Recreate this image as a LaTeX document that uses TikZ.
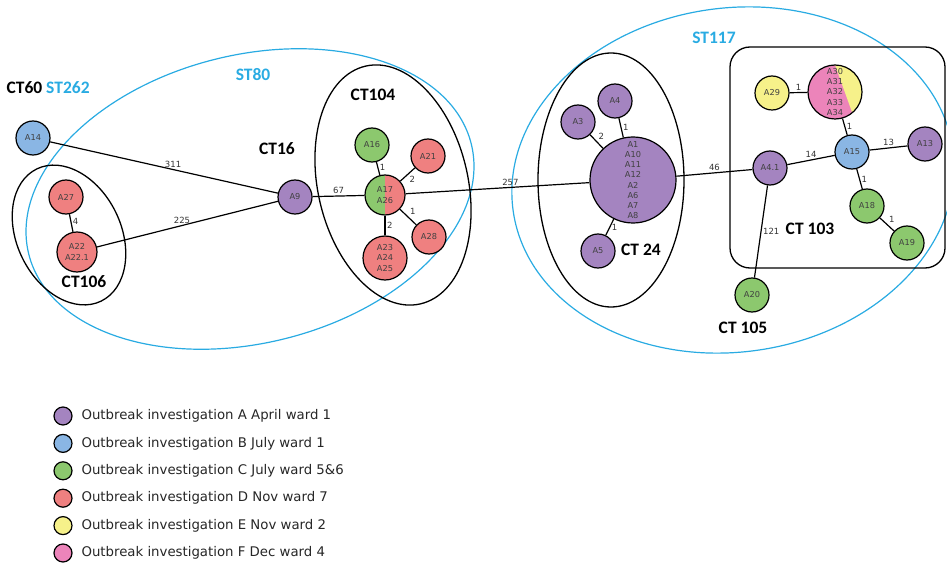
\documentclass[tikz,border=0pt]{standalone}
\usepackage{fontspec}
\setmainfont{DejaVu Sans}
\newfontfamily\ctfont{Carlito}
\usetikzlibrary{positioning}

\definecolor{apurple}{RGB}{164,132,192}
\definecolor{bblue}{RGB}{138,182,228}
\definecolor{cgreen}{RGB}{140,200,110}
\definecolor{dred}{RGB}{239,128,128}
\definecolor{eyellow}{RGB}{246,241,138}
\definecolor{fpink}{RGB}{236,132,186}
\definecolor{stblue}{RGB}{41,171,226}

\begin{document}
\begin{tikzpicture}[x=1pt, y=-1pt,
    iso/.style={circle, draw, line width=1.2pt, minimum size=34pt, inner sep=0pt,
        align=center, text=black!75, font=\fontsize{8.2}{10.2}\selectfont},
    lnk/.style={line width=1.2pt},
    num/.style={inner sep=1.5pt, text=black!80, font=\fontsize{8.5}{10}\selectfont},
    ctline/.style={line width=1.3pt},
    stline/.style={line width=1.2pt, draw=stblue},
    ctlab/.style={font=\ctfont\bfseries\fontsize{17.5}{20}\selectfont},
    stlab/.style={ctlab, text=stblue},
    legdot/.style={circle, draw, line width=1.2pt, minimum size=18pt, inner sep=0pt},
    legtext/.style={anchor=west, text=black!85, font=\fontsize{13.3}{15}\selectfont}]

    \useasboundingbox (0,0) rectangle (947,564);

    % Grupos ST (azul)
    \draw[stline, rotate around={14:(250,199)}] (250,199) ellipse [x radius=228pt, y radius=144pt];
    \draw[stline, rotate around={8:(733,180)}] (733,180) ellipse [x radius=222pt, y radius=172pt];

    % Grupos CT (negro)
    \draw[ctline, rotate around={26:(69,235)}] (69,235) ellipse [x radius=52pt, y radius=73.5pt];
    \draw[ctline, rotate around={13:(393,185)}] (393,185) ellipse [x radius=75pt, y radius=122pt];
    \draw[ctline] (611,180) ellipse [x radius=73pt, y radius=127pt];
    \draw[ctline, rounded corners=20pt] (730,47) rectangle (945,268);

    % Etiquetas de los grupos
    \node[ctlab, anchor=west] (ct60) at (3,88) {CT60 \textcolor{stblue}{ST262}};
    \node[stlab] (st80) at (253,75) {ST80};
    \node[ctlab] (ct16) at (277,149) {CT16};
    \node[ctlab] (ct104) at (373,95) {CT104};
    \node[ctlab] (ct106) at (84,282) {CT106};
    \node[ctlab] (ct24) at (641,250) {CT 24};
    \node[stlab] (st117) at (714,38) {ST117};
    \node[ctlab] (ct103) at (810,229) {CT 103};
    \node[ctlab] (ct105) at (743,328) {CT 105};

    % Aislados
    \node[iso, fill=bblue] (a14) at (33,138) {A14};
    \node[iso, fill=dred] (a27) at (66,197) {A27};
    \node[iso, fill=dred, minimum size=40pt] (a22) at (77,252) {A22\\A22.1};
    \node[iso, fill=apurple] (a9) at (295,197) {A9};
    \node[iso, fill=cgreen] (a16) at (372,145) {A16};
    \node[iso, fill=cgreen, minimum size=40pt,
        path picture={\fill[dred] (path picture bounding box.north) rectangle (path picture bounding box.south east);}]
        (a17) at (385,195) {A17\\A26};
    \node[iso, fill=dred] (a21) at (428,156) {A21};
    \node[iso, fill=dred] (a28) at (429,237) {A28};
    \node[iso, fill=dred, minimum size=44pt] (a23) at (385,258) {A23\\A24\\A25};
    \node[iso, fill=apurple] (a3) at (578,122) {A3};
    \node[iso, fill=apurple] (a4) at (615,101) {A4};
    \node[iso, fill=apurple, minimum size=86pt] (a1) at (633,180)
        {A1\\A10\\A11\\A12\\A2\\A6\\A7\\A8};
    \node[iso, fill=apurple] (a5) at (598,251) {A5};
    \node[iso, fill=eyellow] (a29) at (772,93) {A29};
    \node[iso, fill=fpink, minimum size=54pt,
        path picture={\fill[eyellow] (path picture bounding box.north) -- (path picture bounding box.north east)
            -- (path picture bounding box.south east) -- ([xshift=19.5pt]path picture bounding box.south) -- cycle;}]
        (a30) at (835,92) {A30\\A31\\A32\\A33\\A34};
    \node[iso, fill=bblue] (a15) at (852,152) {A15};
    \node[iso, fill=apurple] (a13) at (925,144) {A13};
    \node[iso, fill=apurple] (a41) at (770,168) {A4.1};
    \node[iso, fill=cgreen] (a18) at (867,206) {A18};
    \node[iso, fill=cgreen] (a19) at (907,243) {A19};
    \node[iso, fill=cgreen] (a20) at (752,295) {A20};

    % Distancias
    \draw[lnk] (a14) -- node[num, pos=0.54, above] {311} (a9);
    \draw[lnk] (a22) -- node[num, pos=0.47, above] {225} (a9);
    \draw[lnk] (a27) -- node[num, pos=0.4, right] {4} (a22);
    \draw[lnk] (a9) -- node[num, midway, above] {67} (a17);
    \draw[lnk] (a17) -- node[num, pos=0.57, above] {257} (a1);
    \draw[lnk] (a16) -- node[num, pos=0.4, right] {1} (a17);
    \draw[lnk] (a21) -- node[num, midway, below right] {2} (a17);
    \draw[lnk] (a28) -- node[num, midway, above right] {1} (a17);
    \draw[lnk] (a23) -- node[num, midway, right] {2} (a17);
    \draw[lnk] (a3) -- node[num, midway, above right] {2} (a1);
    \draw[lnk] (a4) -- node[num, midway, right] {1} (a1);
    \draw[lnk] (a5) -- node[num, midway, right] {1} (a1);
    \draw[lnk] (a1) -- node[num, midway, above] {46} (a41);
    \draw[lnk] (a29) -- node[num, midway, above] {1} (a30);
    \draw[lnk] (a30) -- node[num, midway, right] {1} (a15);
    \draw[lnk] (a15) -- node[num, midway, above] {13} (a13);
    \draw[lnk] (a41) -- node[num, midway, above] {14} (a15);
    \draw[lnk] (a15) -- node[num, midway, right] {1} (a18);
    \draw[lnk] (a18) -- node[num, midway, above right] {1} (a19);
    \draw[lnk] (a41) -- node[num, midway, right] {121} (a20);

    % Leyenda
    \foreach \col/\txt [count=\i] in {apurple/{A April ward 1}, bblue/{B July ward 1},
            cgreen/{C July ward 5\&6}, dred/{D Nov ward 7}, eyellow/{E Nov ward 2}, fpink/{F Dec ward 4}} {
        \node[legdot, fill=\col] (leg\i) at (63,{416+27.4*(\i-1)}) {};
        \node[legtext] (legt\i) at (78,{416+27.4*(\i-1)}) {Outbreak investigation \txt};
    }
\end{tikzpicture}
\end{document}
